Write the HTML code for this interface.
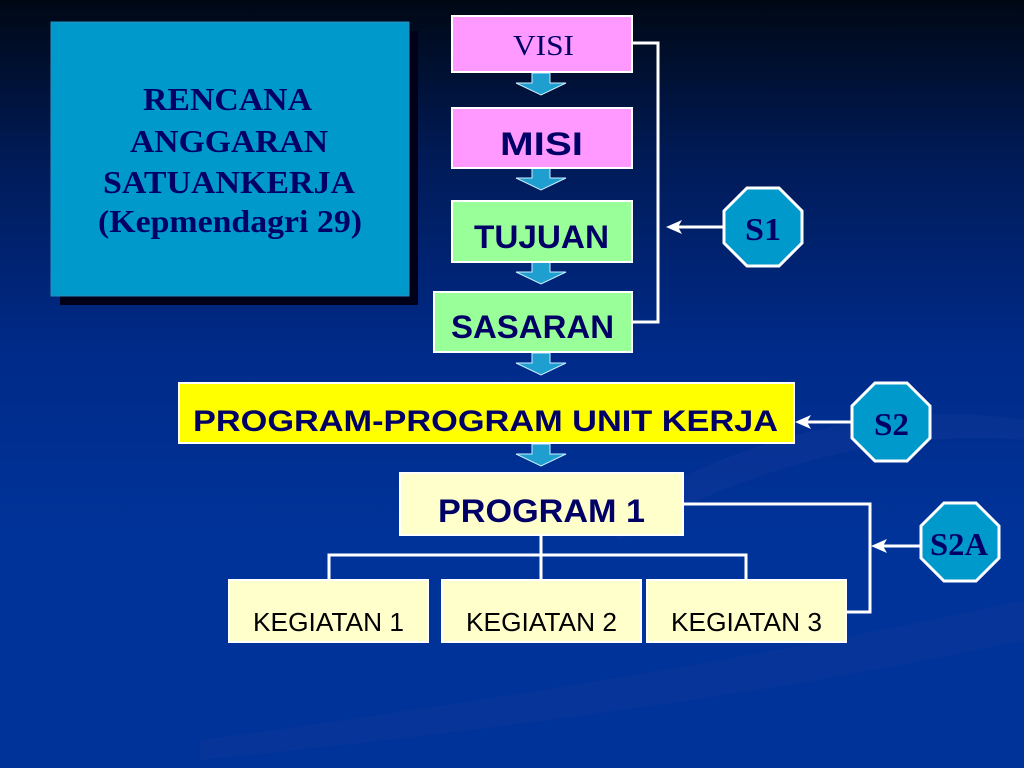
<!DOCTYPE html>
<html><head><meta charset="utf-8"><style>
html,body{margin:0;padding:0;width:1024px;height:768px;overflow:hidden}
body{background:linear-gradient(#000814 0%,#001a55 20%,#002a88 45%,#003399 70%,#003399 100%)}
svg{display:block}
.sans{font-family:"Liberation Sans",sans-serif;font-weight:bold;fill:#000066}
.serif{font-family:"Liberation Serif",serif;fill:#000066}
</style></head><body>
<svg width="1024" height="768" viewBox="0 0 1024 768">
<defs>
<g id="arr"><polygon points="-9,0 9,0 9,10 25,10 0,22 -25,10 -9,10" fill="#1e9fd0" stroke="#cfefff" stroke-width="1"/></g>
</defs>
<path d="M600,520 C750,430 900,400 1024,420 L1024,440 C900,430 760,460 620,540 Z" fill="#1c3d9a" opacity="0.3"/>
<path d="M200,740 C500,700 800,650 1024,600 L1024,640 C800,690 500,730 200,760 Z" fill="#1c3d9a" opacity="0.2"/>
<rect x="60" y="31" width="358" height="274" fill="#000018"/>
<rect x="51" y="22" width="358" height="274" fill="#0099cc" stroke="#2a8fc0" stroke-width="1"/>
<g class="serif" font-weight="bold" font-size="32">
<text x="143" y="110" textLength="169" lengthAdjust="spacingAndGlyphs">RENCANA</text>
<text x="130" y="152" textLength="198" lengthAdjust="spacingAndGlyphs">ANGGARAN</text>
<text x="103" y="193" textLength="252" lengthAdjust="spacingAndGlyphs">SATUANKERJA</text>
<text x="98" y="232" textLength="264" lengthAdjust="spacingAndGlyphs">(Kepmendagri 29)</text>
</g>
<use href="#arr" x="541" y="73"/>
<use href="#arr" x="541" y="168"/>
<use href="#arr" x="541" y="262"/>
<use href="#arr" x="541" y="353"/>
<use href="#arr" x="541" y="444"/>
<rect x="452" y="16" width="180" height="56" fill="#ff99ff" stroke="#fff" stroke-width="2"/>
<text x="513" y="55" class="serif" font-size="28" textLength="61" lengthAdjust="spacingAndGlyphs">VISI</text>
<rect x="452" y="108" width="180" height="60" fill="#ff99ff" stroke="#fff" stroke-width="2"/>
<text x="500" y="155" class="sans" font-size="32" textLength="83" lengthAdjust="spacingAndGlyphs">MISI</text>
<rect x="452" y="201" width="180" height="61" fill="#99ff99" stroke="#fff" stroke-width="2"/>
<text x="474" y="248" class="sans" font-size="32" textLength="135" lengthAdjust="spacingAndGlyphs">TUJUAN</text>
<rect x="434" y="292" width="198" height="60" fill="#99ff99" stroke="#fff" stroke-width="2"/>
<text x="451" y="338" class="sans" font-size="32" textLength="163" lengthAdjust="spacingAndGlyphs">SASARAN</text>
<polyline points="633,43 658,43 658,322 633,322" fill="none" stroke="#fff" stroke-width="3"/>
<line x1="725" y1="227" x2="678" y2="227" stroke="#fff" stroke-width="3"/>
<polygon points="666,227 682,220 678,227 682,234" fill="#fff"/>
<rect x="179" y="383" width="615" height="60" fill="#ffff00" stroke="#fff" stroke-width="2"/>
<text x="193" y="431" class="sans" font-size="30" textLength="585" lengthAdjust="spacingAndGlyphs">PROGRAM-PROGRAM UNIT KERJA</text>
<line x1="852" y1="422" x2="807" y2="422" stroke="#fff" stroke-width="3"/>
<polygon points="795,422 811,415 807,422 811,429" fill="#fff"/>
<rect x="400" y="473" width="283" height="62" fill="#ffffcc" stroke="#fff" stroke-width="2"/>
<text x="438" y="522" class="sans" font-size="32" textLength="207" lengthAdjust="spacingAndGlyphs">PROGRAM 1</text>
<polyline points="684,504 870,504 870,612 847,612" fill="none" stroke="#fff" stroke-width="3"/>
<line x1="920" y1="546" x2="882" y2="546" stroke="#fff" stroke-width="3"/>
<polygon points="871,546 887,539 883,546 887,553" fill="#fff"/>
<polyline points="541,536 541,555" fill="none" stroke="#fff" stroke-width="3"/>
<polyline points="329,580 329,555 746,555 746,580" fill="none" stroke="#fff" stroke-width="3"/>
<line x1="541" y1="555" x2="541" y2="580" stroke="#fff" stroke-width="3"/>
<g font-family="Liberation Sans,sans-serif" font-size="26" fill="#000">
<rect x="229" y="580" width="199" height="62" fill="#ffffcc" stroke="#fff" stroke-width="2"/>
<text x="253" y="631" textLength="151" lengthAdjust="spacingAndGlyphs">KEGIATAN 1</text>
<rect x="442" y="580" width="199" height="62" fill="#ffffcc" stroke="#fff" stroke-width="2"/>
<text x="466" y="631" textLength="151" lengthAdjust="spacingAndGlyphs">KEGIATAN 2</text>
<rect x="647" y="580" width="199" height="62" fill="#ffffcc" stroke="#fff" stroke-width="2"/>
<text x="671" y="631" textLength="151" lengthAdjust="spacingAndGlyphs">KEGIATAN 3</text>
</g>
<g fill="#0099cc" stroke="#fff" stroke-width="3">
<polygon transform="translate(763,227)" points="-16,-39 16,-39 39,-16 39,16 16,39 -16,39 -39,16 -39,-16"/>
<polygon transform="translate(891,422)" points="-16,-39 16,-39 39,-16 39,16 16,39 -16,39 -39,16 -39,-16"/>
<polygon transform="translate(960,542)" points="-16,-39 16,-39 39,-16 39,16 16,39 -16,39 -39,16 -39,-16"/>
</g>
<g class="serif" font-weight="bold" font-size="32">
<text x="745" y="240" textLength="36" lengthAdjust="spacingAndGlyphs">S1</text>
<text x="874" y="435" textLength="35" lengthAdjust="spacingAndGlyphs">S2</text>
<text x="930" y="555" textLength="58" lengthAdjust="spacingAndGlyphs">S2A</text>
</g>
</svg>
</body></html>
